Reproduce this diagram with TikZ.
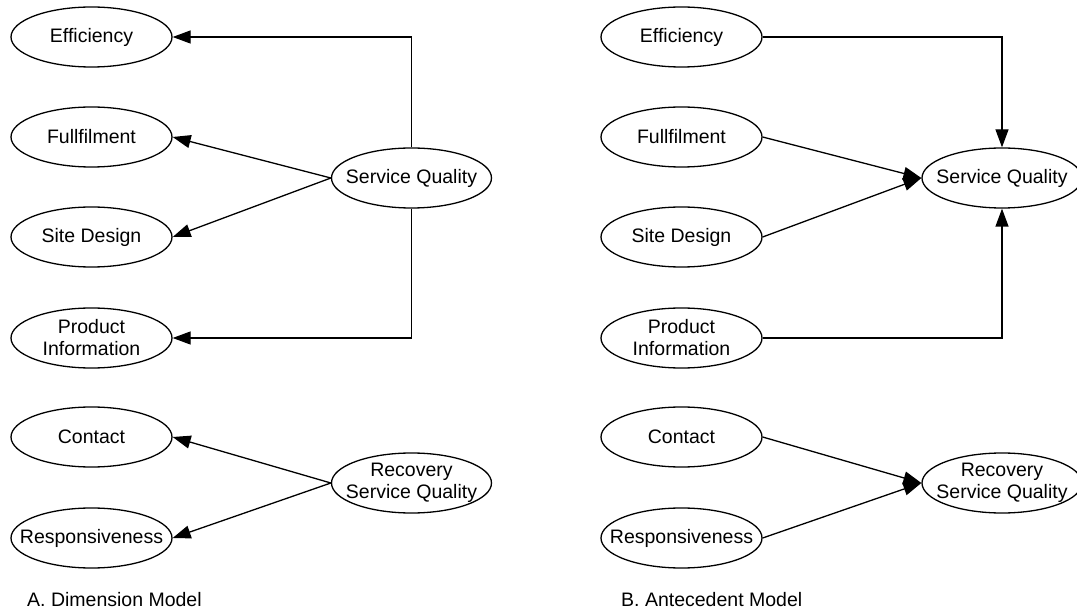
\documentclass[tikz,border=0pt]{standalone}
\usepackage{fontspec}
\setmainfont{Liberation Sans}
\usepackage{tikz}
\usetikzlibrary{shapes.geometric, arrows.meta}
\tikzstyle{canvas} = [x = 1pt, y = -1pt]
\tikzstyle{factorNode} = [draw, ellipse, line width = 1.3pt, minimum width = 161pt, minimum height = 60pt, inner xsep = -20pt, inner ysep = -6pt, align = center, font = \fontsize{19.5}{22}\selectfont]
\tikzstyle{qualityNode} = [factorNode, minimum width = 160pt]
\tikzstyle{arrowLine} = [line width = 1.3pt, -{Triangle[length = 18pt, width = 13pt]}]
\tikzstyle{captionText} = [anchor = base west, inner sep = 0pt, font = \fontsize{19.5}{22}\selectfont]

\begin{document}
\begin{tikzpicture}[canvas]
      \useasboundingbox (0, 0) rectangle (1077, 612);

      % A. dimension model
      \node [factorNode] (leftEff) at (91.5, 37) {Efficiency};
      \node [factorNode] (leftFull) at (91.5, 137) {Fullfilment};
      \node [factorNode] (leftSite) at (91.5, 237) {Site Design};
      \node [factorNode] (leftProd) at (91.5, 338) {Product\\Information};
      \node [factorNode] (leftCont) at (91.5, 437) {Contact};
      \node [factorNode] (leftResp) at (91.5, 538) {Responsiveness};
      \node [qualityNode] (leftSQ) at (411.5, 178) {Service Quality};
      \node [qualityNode] (leftRSQ) at (411.5, 483) {Recovery\\Service Quality};

      \draw [arrowLine] (leftSQ.north) |- (leftEff.east);
      \draw [arrowLine] (leftSQ.west) -- (leftFull.east);
      \draw [arrowLine] (leftSQ.west) -- (leftSite.east);
      \draw [arrowLine] (leftSQ.south) |- (leftProd.east);
      \draw [arrowLine] (leftRSQ.west) -- (leftCont.east);
      \draw [arrowLine] (leftRSQ.west) -- (leftResp.east);

      \node [captionText] (leftCaption) at (27, 606) {A. Dimension Model};

      % B. antecedent model
      \node [factorNode] (rightEff) at (681.5, 37) {Efficiency};
      \node [factorNode] (rightFull) at (681.5, 137) {Fullfilment};
      \node [factorNode] (rightSite) at (681.5, 237) {Site Design};
      \node [factorNode] (rightProd) at (681.5, 338) {Product\\Information};
      \node [factorNode] (rightCont) at (681.5, 437) {Contact};
      \node [factorNode] (rightResp) at (681.5, 538) {Responsiveness};
      \node [qualityNode] (rightSQ) at (1002, 178) {Service Quality};
      \node [qualityNode] (rightRSQ) at (1002, 483) {Recovery\\Service Quality};

      \draw [arrowLine] (rightEff.east) -| (rightSQ.north);
      \draw [arrowLine] (rightFull.east) -- (rightSQ.west);
      \draw [arrowLine] (rightSite.east) -- (rightSQ.west);
      \draw [arrowLine] (rightProd.east) -| (rightSQ.south);
      \draw [arrowLine] (rightCont.east) -- (rightRSQ.west);
      \draw [arrowLine] (rightResp.east) -- (rightRSQ.west);

      \node [captionText] (rightCaption) at (621, 606) {B. Antecedent Model};
    \end{tikzpicture}
\end{document}
